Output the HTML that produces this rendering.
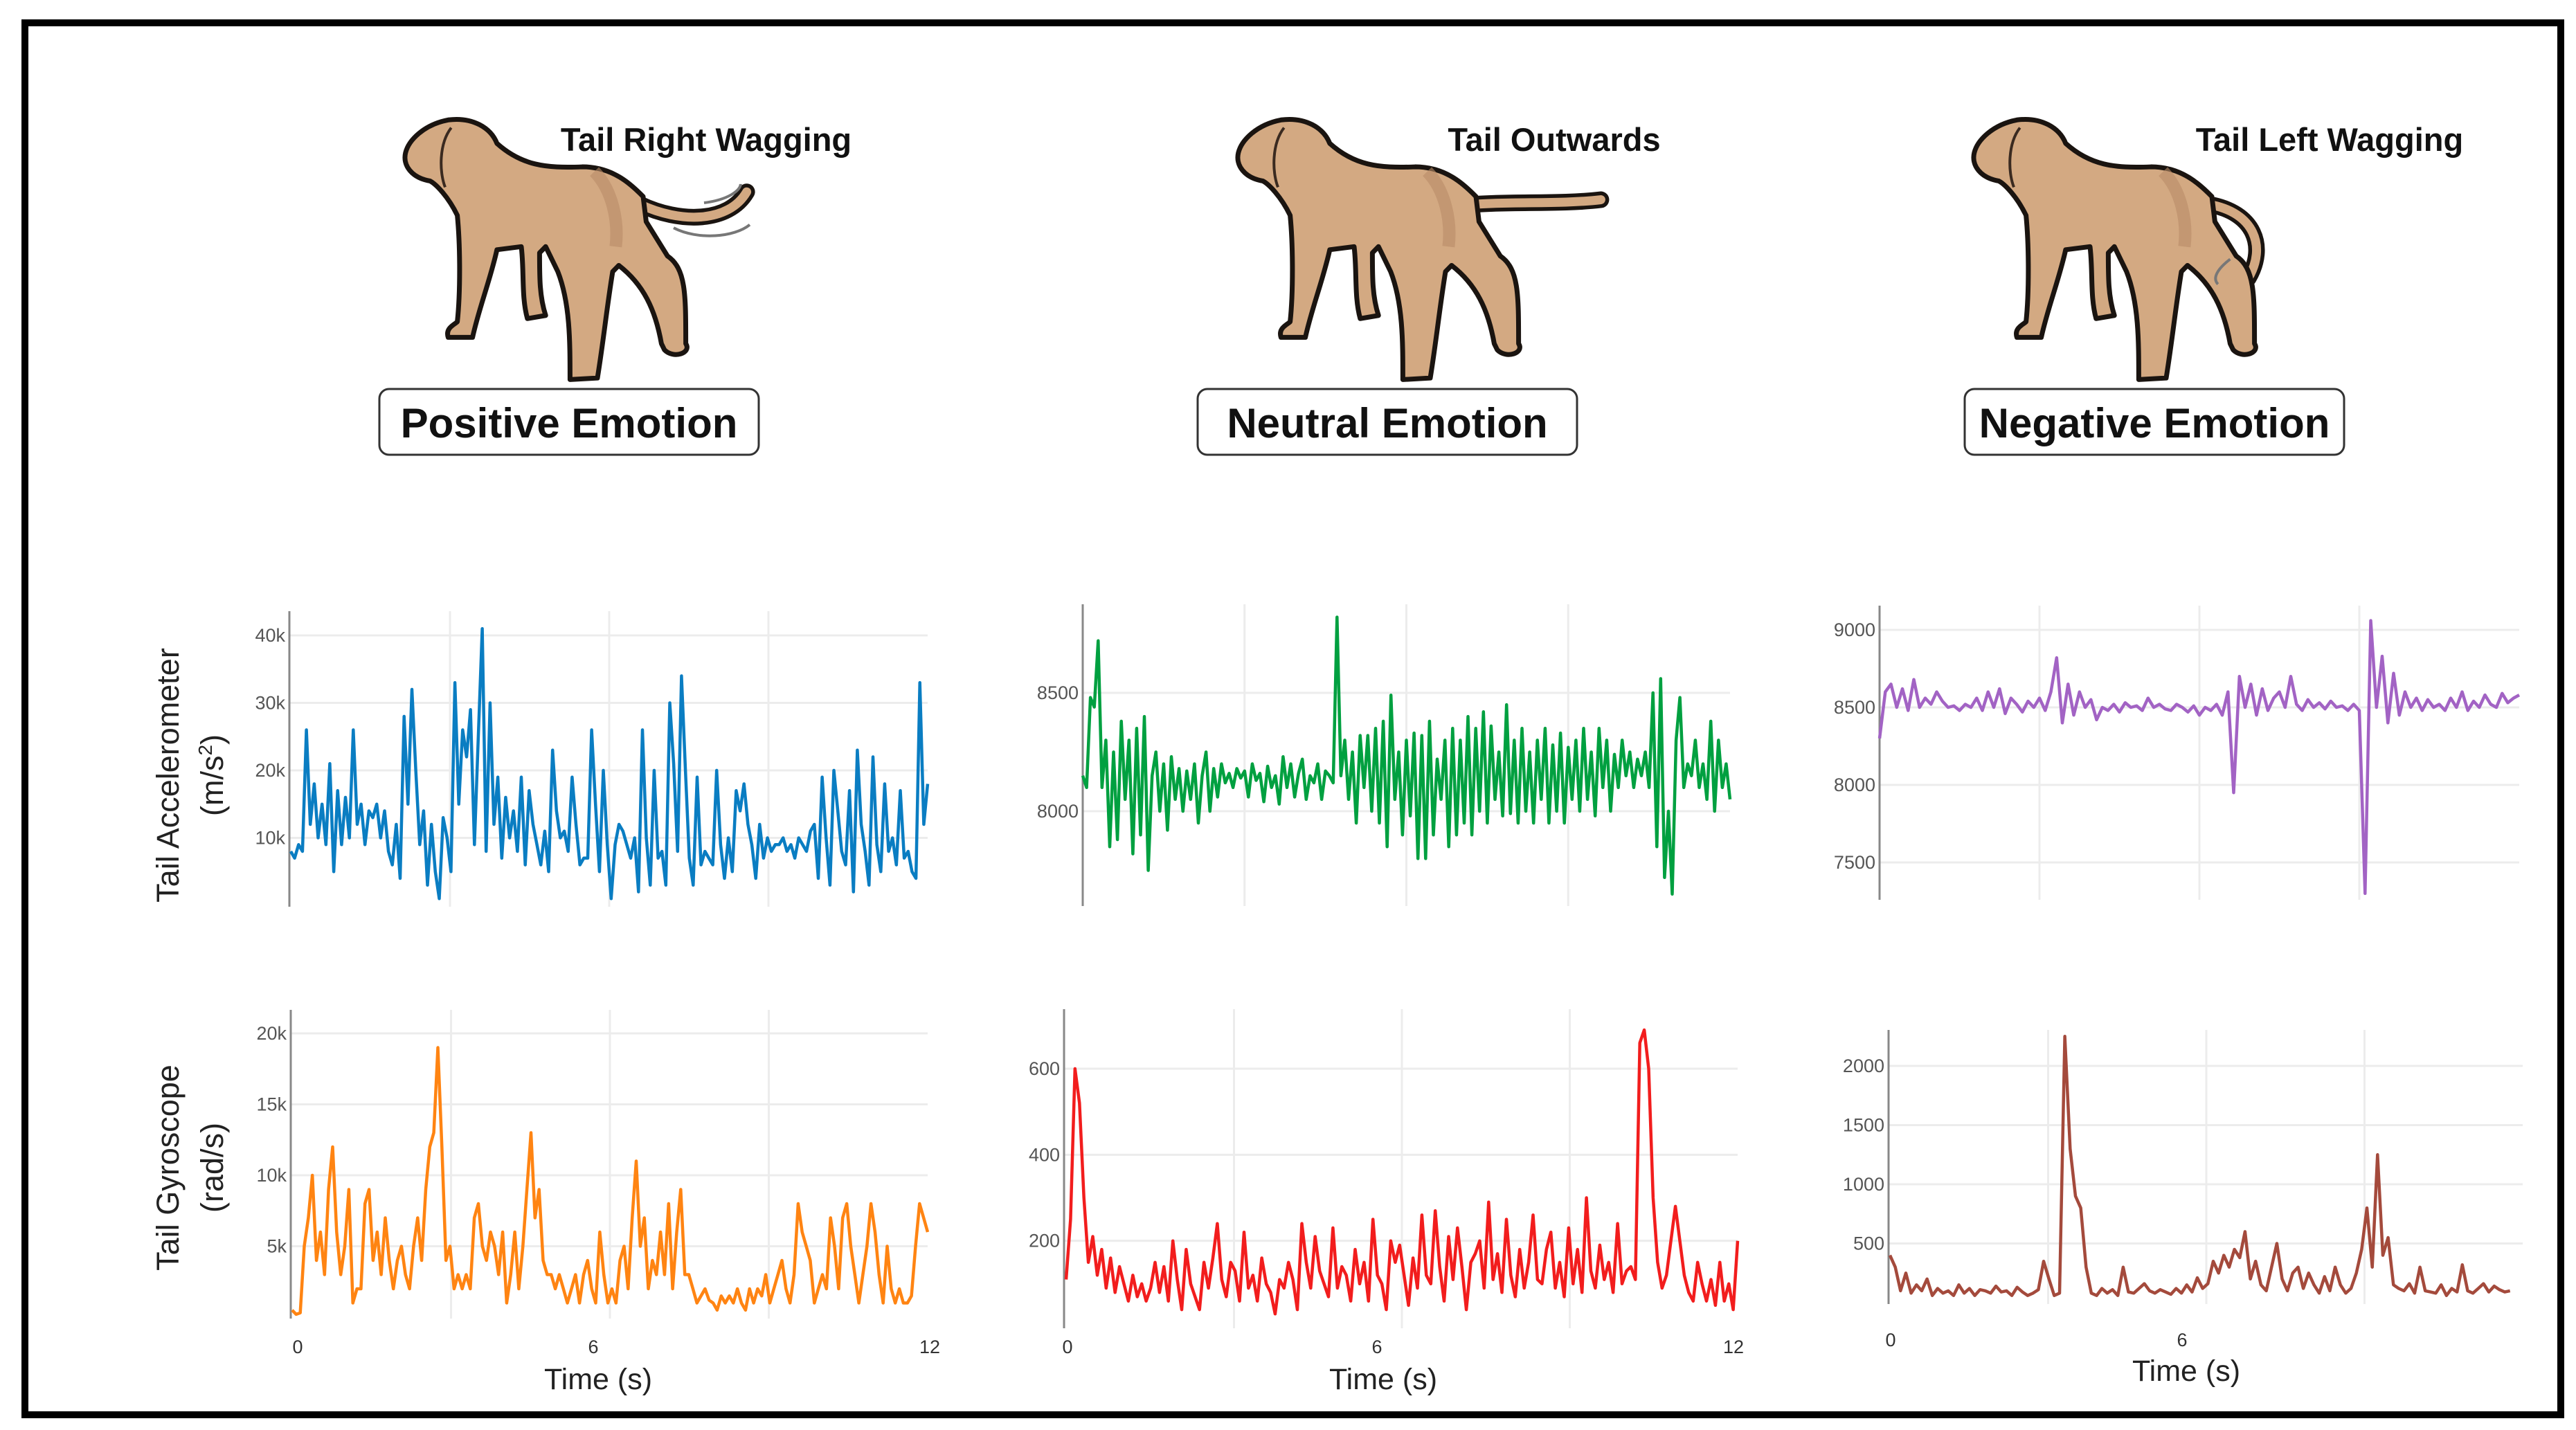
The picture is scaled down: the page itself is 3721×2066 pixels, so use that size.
<!DOCTYPE html>
<html><head><meta charset="utf-8"><style>
html,body{margin:0;padding:0;background:#fff;}
svg{display:block;font-family:"Liberation Sans",sans-serif;}
</style></head><body>
<svg id="fig" width="3721" height="2066" viewBox="0 0 3721 2066" xmlns="http://www.w3.org/2000/svg">
<rect x="0" y="0" width="3721" height="2066" fill="#fff"/>
<rect x="36" y="33" width="3663" height="2011" fill="none" stroke="#000" stroke-width="10"/>
<defs>
<g id="dogbody">
<path d="M720,395 C760,385 790,420 800,470 C840,540 880,550 940,545 C990,545 1020,600 1040,640 L1045,720 L1080,830 C1110,870 1110,950 1110,1110 C1120,1140 1090,1160 1075,1130 L1070,1110 C1060,1000 1040,920 1000,860 L990,880 C980,1000 975,1100 965,1220 L920,1225 C920,1100 920,980 900,880 L880,800 L870,820 C870,900 870,960 880,1020 L850,1030 C840,960 845,880 840,800 L800,810 C790,900 770,1000 760,1090 L720,1090 C715,1060 730,1050 735,1040 C740,950 740,800 735,700 C720,640 700,600 690,590 C660,580 645,540 650,500 C655,460 680,410 720,395 Z" fill="#d3a982" stroke="#1a1410" stroke-width="7" stroke-linejoin="round" vector-effect="non-scaling-stroke"/>
<path d="M725,420 C705,470 705,560 715,610" fill="none" stroke="#3a2a20" stroke-width="4" vector-effect="non-scaling-stroke"/>
<path d="M960,560 C990,620 1000,720 995,800" fill="none" stroke="#b98c68" stroke-width="18" opacity="0.6" vector-effect="non-scaling-stroke"/>
</g>
</defs>
<g transform="translate(577,171) scale(0.88,0.452) translate(-640,-390)">
<path d="M1035,665 C1100,725 1180,725 1210,625" fill="none" stroke="#1a1410" stroke-width="24" stroke-linecap="round" vector-effect="non-scaling-stroke"/>
<path d="M1035,665 C1100,725 1180,725 1210,625" fill="none" stroke="#d3a982" stroke-width="13" stroke-linecap="round" vector-effect="non-scaling-stroke"/>
<use href="#dogbody"/>
<path d="M1140,660 C1180,650 1200,620 1200,600 M1090,740 C1130,780 1190,770 1215,730" fill="none" stroke="#777" stroke-width="4" vector-effect="non-scaling-stroke"/>
</g>
<g transform="translate(1780,171) scale(0.88,0.452) translate(-640,-390)">
<path d="M1035,665 C1100,655 1180,665 1245,650" fill="none" stroke="#1a1410" stroke-width="24" stroke-linecap="round" vector-effect="non-scaling-stroke"/>
<path d="M1035,665 C1100,655 1180,665 1245,650" fill="none" stroke="#d3a982" stroke-width="13" stroke-linecap="round" vector-effect="non-scaling-stroke"/>
<use href="#dogbody"/>
</g>
<g transform="translate(2843,171) scale(0.88,0.452) translate(-640,-390)">
<path d="M1035,665 C1110,690 1130,800 1100,900" fill="none" stroke="#1a1410" stroke-width="24" stroke-linecap="round" vector-effect="non-scaling-stroke"/>
<path d="M1035,665 C1110,690 1130,800 1100,900" fill="none" stroke="#d3a982" stroke-width="13" stroke-linecap="round" vector-effect="non-scaling-stroke"/>
<use href="#dogbody"/>
<path d="M1070,840 C1050,870 1040,900 1050,920" fill="none" stroke="#777" stroke-width="4" vector-effect="non-scaling-stroke"/>
</g>
<g font-weight="bold" fill="#111" font-size="47" text-anchor="middle">
<text x="1020" y="218">Tail Right Wagging</text>
<text x="2245" y="218">Tail Outwards</text>
<text x="3365" y="218">Tail Left Wagging</text>
</g>
<g><rect x="548" y="562" width="548" height="95" rx="14" fill="#fff" stroke="#333" stroke-width="3"/><text x="822" y="632" font-size="60" font-weight="bold" text-anchor="middle" fill="#111">Positive Emotion</text></g>
<g><rect x="1730" y="562" width="548" height="95" rx="14" fill="#fff" stroke="#333" stroke-width="3"/><text x="2004" y="632" font-size="60" font-weight="bold" text-anchor="middle" fill="#111">Neutral Emotion</text></g>
<g><rect x="2838" y="562" width="548" height="95" rx="14" fill="#fff" stroke="#333" stroke-width="3"/><text x="3112" y="632" font-size="60" font-weight="bold" text-anchor="middle" fill="#111">Negative Emotion</text></g>
<g font-size="45" fill="#222" text-anchor="middle">
<text transform="translate(258,1120) rotate(-90)">Tail Accelerometer</text>
<text transform="translate(322,1120) rotate(-90)">(m/s<tspan font-size="28" dy="-16">2</tspan><tspan dy="16">)</tspan></text>
<text transform="translate(258,1687) rotate(-90)">Tail Gyroscope</text>
<text transform="translate(322,1687) rotate(-90)">(rad/s)</text>
</g>
<g id="charts"></g>
</svg>
<script>
const acc1 = [8,7,9,8,26,12,18,10,15,9,21,5,17,9,16,10,26,12,15,9,14,13,15,10,14,8,6,12,4,28,15,32,20,9,14,3,12,5,1,13,10,5,33,15,26,22,29,9,25,41,8,30,12,19,7,16,10,14,8,19,6,17,12,9,6,11,5,23,14,10,11,8,19,12,6,7,7,26,15,5,20,9,1,9,12,11,9,7,10,2,26,10,3,20,7,8,3,30,21,8,34,20,7,3,19,6,8,7,6,20,9,4,10,5,17,14,18,12,9,4,12,7,10,8,9,9,10,8,9,7,10,9,8,11,12,4,19,10,3,20,14,8,6,17,2,23,12,8,3,22,9,5,18,8,10,6,17,7,8,5,4,33,12,18];
const gyro1 = [0.5,0.2,0.3,5,7,10,4,6,3,9,12,6,3,5,9,1,2,2,8,9,4,6,3,7,4,2,4,5,3,2,5,7,4,9,12,13,19,12,4,5,2,3,2,3,2,7,8,5,4,6,5,3,6,1,3,6,2,5,9,13,7,9,4,3,3,2,3,2,1,2,3,1,3,4,2,1,6,3,1,2,1,4,5,2,7,11,5,7,2,4,3,6,3,8,2,6,9,3,3,2,1,1.5,2,1.2,1,0.5,1.5,1,1.5,1,2,1,0.5,2,1,2,1.5,3,1,2,3,4,2,1,3,8,6,5,4,1,2,3,2,7,5,2,7,8,5,3,1,3,5,8,6,3,1,5,2,1,2,1,1,1.5,5,8,7,6];
const acc2 = [8150,8100,8480,8440,8720,8100,8300,7850,8250,7880,8380,8050,8300,7820,8350,7900,8400,7750,8150,8250,8000,8200,7920,8230,8050,8180,8000,8170,8050,8200,7950,8150,8250,8000,8180,8060,8200,8120,8160,8100,8180,8140,8170,8060,8200,8130,8160,8040,8190,8100,8150,8030,8230,8100,8200,8060,8160,8220,8050,8150,8120,8200,8050,8170,8150,8120,8820,8150,8300,8050,8250,7950,8320,8100,8320,8000,8350,7950,8380,7850,8490,8050,8250,7900,8300,7980,8330,7800,8320,7800,8380,7900,8220,8050,8300,7850,8350,7900,8300,7950,8400,7900,8350,8000,8420,7950,8360,8050,8250,7980,8450,7990,8300,7950,8350,8000,8250,7950,8300,8050,8350,7950,8280,8000,8330,7950,8270,8050,8300,8000,8350,8050,8250,7980,8350,8100,8300,8000,8240,8100,8300,8150,8250,8100,8220,8150,8250,8100,8500,7850,8560,7720,8000,7650,8300,8480,8100,8200,8150,8300,8100,8200,8050,8380,8000,8300,8100,8200,8050];
const gyro2 = [110,250,600,520,300,150,210,120,180,90,160,80,140,100,60,120,70,100,60,90,150,80,140,60,200,110,40,180,100,70,40,150,90,160,240,110,70,150,130,60,220,90,120,60,160,100,80,30,110,90,150,110,40,240,150,90,210,130,100,70,230,90,140,120,60,180,100,150,60,250,120,100,40,200,150,190,120,50,160,90,260,120,100,270,140,60,210,110,230,140,40,150,170,200,90,290,110,170,80,250,120,70,180,90,150,260,110,100,180,220,90,150,70,230,100,180,80,300,130,90,190,110,150,80,240,100,130,140,110,660,690,600,300,150,90,120,200,280,200,120,80,60,150,100,60,110,50,150,60,100,40,200];
const acc3 = [8300,8600,8650,8500,8620,8480,8680,8500,8560,8520,8600,8540,8500,8510,8480,8520,8500,8560,8480,8600,8500,8620,8460,8560,8520,8470,8540,8500,8560,8480,8600,8820,8400,8650,8450,8600,8500,8550,8420,8500,8480,8520,8470,8530,8500,8510,8480,8560,8500,8520,8490,8480,8520,8500,8470,8510,8450,8500,8480,8520,8450,8600,7950,8700,8500,8650,8450,8620,8480,8560,8600,8500,8700,8520,8480,8550,8500,8530,8490,8540,8500,8510,8480,8520,8480,7300,9060,8500,8830,8400,8720,8450,8600,8500,8560,8480,8550,8500,8520,8480,8560,8500,8600,8480,8540,8500,8580,8520,8500,8590,8530,8560,8580];
const gyro3 = [400,300,100,250,80,150,100,200,60,120,80,100,60,150,80,120,60,110,100,80,140,90,100,60,130,90,60,80,110,350,200,60,80,2250,1300,900,800,300,80,60,120,80,110,60,300,90,80,120,160,100,80,110,90,70,120,80,150,90,210,120,160,350,250,400,300,450,380,600,200,350,150,100,300,500,200,100,250,300,120,250,150,80,220,100,300,150,80,120,250,450,800,300,1250,400,550,150,120,100,160,80,300,100,90,80,150,60,120,90,320,100,80,120,160,90,140,110,90,100];
const ticksAcc1 = [10000,20000,30000,40000];
const tickLabAcc1 = ["10k","20k","30k","40k"];
const ticksGyro1 = [5000,10000,15000,20000];
const tickLabGyro1 = ["5k","10k","15k","20k"];
const ticksAcc2 = [8000,8500];
const ticksGyro2 = [200,400,600];
const ticksAcc3 = [7500,8000,8500,9000];
const ticksGyro3 = [500,1000,1500,2000];
const xTickVals = [0,6,12];

const NS="http://www.w3.org/2000/svg";
const root=document.getElementById('charts');
function mk(tag,attrs,parent){const e=document.createElementNS(NS,tag);for(const k in attrs)e.setAttribute(k,attrs[k]);(parent||root).appendChild(e);return e;}

function panel(cfg){
  const g=mk('g',{});
  
  
  const X=t=>cfg.x0+(cfg.x12-cfg.x0)*t/12;
  const Y=v=>cfg.yA+(v-cfg.vA)*(cfg.yB-cfg.yA)/(cfg.vB-cfg.vA);
  [3,6,9].forEach(t=>{
    const l=mk('line',{x1:X(t),x2:X(t),y1:cfg.top,y2:cfg.bottom,stroke:'#ececec','stroke-width':3},g);
    
    
  });
  cfg.ticks.forEach((v,i)=>{
    const l=mk('line',{x1:cfg.axisX,x2:cfg.x12,y1:Y(v),y2:Y(v),stroke:'#ececec','stroke-width':3},g);
    
    
    const t=mk('text',{x:cfg.axisX-6,y:Y(v)+9,'text-anchor':'end','font-size':27,fill:'#555'},g);
    t.textContent=cfg.labels?cfg.labels[i]:String(v);
    
    
  });
  const ax=mk('line',{x1:cfg.axisX,x2:cfg.axisX,y1:cfg.top,y2:cfg.bottom,stroke:'#888','stroke-width':3},g);
  
  
  const n=cfg.data.length;
  let d='';
  cfg.data.forEach((v,i)=>{d+=(i?'L':'M')+X(cfg.tEnd*i/(n-1)).toFixed(1)+','+Y(v).toFixed(1);});
  const p=mk('path',{d:d,fill:'none',stroke:cfg.color,'stroke-width':4.5,'stroke-linejoin':'round'},g);
  
  
  if(cfg.xlabels){
    cfg.xlabels.forEach((xl,i)=>{
      const t=mk('text',{x:xl[0],y:cfg.xLabY,'text-anchor':'middle','font-size':27,fill:'#333'},g);
      t.textContent=String(xTickVals[i]);
      
      
    });
    const tt=mk('text',{x:cfg.timeX,y:cfg.timeY,'text-anchor':'middle','font-size':43,fill:'#222'},g);
    tt.textContent='Time (s)';
    
    
  }
}
panel({name:'positive-accelerometer-chart',data:acc1.map(v=>v*1000),color:'#0a7dc2',x0:420,x12:1340,tEnd:12,axisX:418,top:883,bottom:1310,vA:0,yA:1308,vB:40000,yB:918,ticks:ticksAcc1,labels:tickLabAcc1});
panel({name:'positive-gyroscope-chart',data:gyro1.map(v=>v*1000),color:'#ff8412',x0:422,x12:1340,tEnd:12,axisX:420,top:1459,bottom:1905,vA:0,yA:1903,vB:20000,yB:1493,ticks:ticksGyro1,labels:tickLabGyro1,xlabels:[[430],[857],[1343]],xLabY:1955,timeX:864,timeY:2007});
panel({name:'neutral-accelerometer-chart',data:acc2,color:'#00a040',x0:1564,x12:2499,tEnd:12,axisX:1564,top:873,bottom:1309,vA:8000,yA:1172,vB:8500,yB:1001,ticks:ticksAcc2});
panel({name:'neutral-gyroscope-chart',data:gyro2,color:'#f21d1d',x0:1540,x12:2510,tEnd:12,axisX:1537,top:1458,bottom:1919,vA:0,yA:1917,vB:600,yB:1544,ticks:ticksGyro2,xlabels:[[1542],[1989],[2504]],xLabY:1955,timeX:1998,timeY:2007});
panel({name:'negative-accelerometer-chart',data:acc3,color:'#a263c4',x0:2715,x12:3639,tEnd:12,axisX:2715,top:875,bottom:1300,vA:8500,yA:1022,vB:9000,yB:910,ticks:ticksAcc3});
panel({name:'negative-gyroscope-chart',data:gyro3,color:'#a44a3c',x0:2730,x12:3644,tEnd:11.76,axisX:2728,top:1488,bottom:1884,vA:0,yA:1882,vB:2000,yB:1540,ticks:ticksGyro3,xlabels:[[2731],[3152]],xLabY:1945,timeX:3158,timeY:1995});
</script>
</body></html>
